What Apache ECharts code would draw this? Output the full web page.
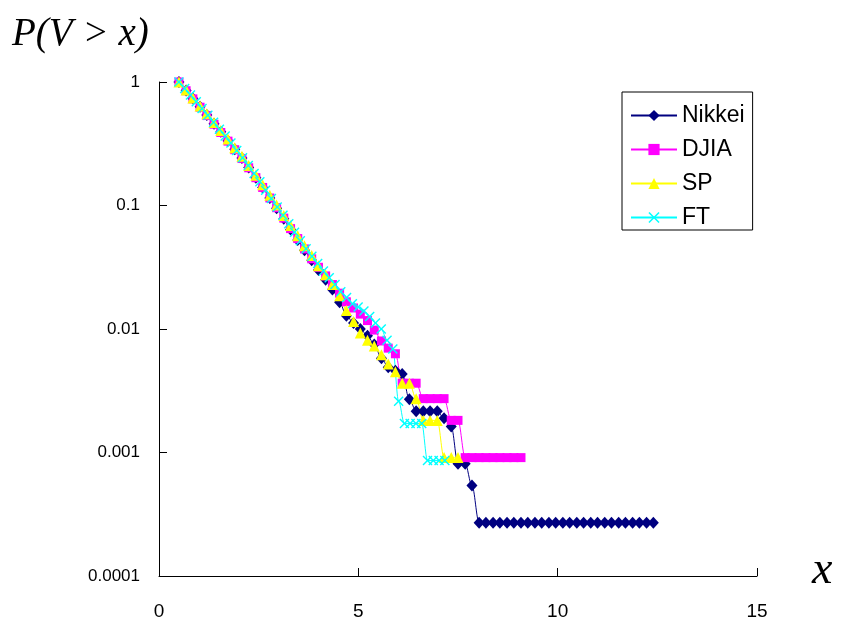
<!DOCTYPE html>
<html><head><meta charset="utf-8">
<script src="https://cdn.jsdelivr.net/npm/echarts@6/dist/echarts.min.js"></script>
<style>html,body{margin:0;padding:0;background:#fff}#c{width:846px;height:628px}</style>
</head><body><div id="c"></div>
<script>
const xTickLabels = ['0', '5', '10', '15'];
const yTickLabels = ['0.0001', '0.001', '0.01', '0.1', '1'];
const seriesNames = ['Nikkei', 'DJIA', 'SP', 'FT'];

const nikkeiX = [0.5, 0.68, 0.85, 1.03, 1.2, 1.38, 1.55, 1.73, 1.9, 2.08,
  2.25, 2.43, 2.6, 2.78, 2.95, 3.13, 3.3, 3.48, 3.65, 3.83,
  4.0, 4.18, 4.35, 4.53, 4.7, 4.88, 5.05, 5.23, 5.4, 5.58,
  5.75, 5.93, 6.1, 6.28, 6.45, 6.63, 6.8, 6.98, 7.15, 7.33,
  7.5, 7.68, 7.85, 8.03, 8.2, 8.38, 8.55, 8.73, 8.9, 9.08,
  9.25, 9.43, 9.6, 9.78, 9.95, 10.13, 10.3, 10.48, 10.65, 10.83,
  11.0, 11.18, 11.35, 11.53, 11.7, 11.88, 12.05, 12.23, 12.4];
const nikkeiP = [1.0, 0.855, 0.735, 0.63, 0.54, 0.46, 0.395, 0.335, 0.285, 0.242,
  0.203, 0.168, 0.14, 0.115, 0.095, 0.078, 0.064, 0.0525, 0.0435, 0.036,
  0.030, 0.0251, 0.0209, 0.0165, 0.0128, 0.0112, 0.0100, 0.0088, 0.0075, 0.0058,
  0.0049, 0.0046, 0.00432, 0.0027, 0.00216, 0.00216, 0.00216, 0.00216, 0.00189, 0.00162,
  0.00081, 0.00081, 0.00054, 0.00027, 0.00027, 0.00027, 0.00027, 0.00027, 0.00027, 0.00027,
  0.00027, 0.00027, 0.00027, 0.00027, 0.00027, 0.00027, 0.00027, 0.00027, 0.00027, 0.00027,
  0.00027, 0.00027, 0.00027, 0.00027, 0.00027, 0.00027, 0.00027, 0.00027, 0.00027];

const djiaX = [0.5, 0.68, 0.85, 1.03, 1.2, 1.38, 1.55, 1.73, 1.9, 2.08,
  2.25, 2.43, 2.6, 2.78, 2.95, 3.13, 3.3, 3.48, 3.65, 3.83,
  4.0, 4.18, 4.35, 4.53, 4.7, 4.88, 5.05, 5.23, 5.4, 5.58,
  5.75, 5.93, 6.1, 6.28, 6.45, 6.63, 6.8, 6.98, 7.15, 7.33,
  7.5, 7.68, 7.85, 8.03, 8.2, 8.38, 8.55, 8.73, 8.9, 9.08];
const djiaP = [1.0, 0.85, 0.73, 0.625, 0.535, 0.455, 0.39, 0.332, 0.283, 0.24,
  0.202, 0.168, 0.14, 0.115, 0.096, 0.079, 0.065, 0.054, 0.0445, 0.037,
  0.0316, 0.0269, 0.0229, 0.0195, 0.0166, 0.0148, 0.0132, 0.0117, 0.0098, 0.0080,
  0.0070, 0.0063, 0.00364, 0.00364, 0.00364, 0.00273, 0.00273, 0.00273, 0.00273, 0.00182,
  0.00182, 0.000909, 0.000909, 0.000909, 0.000909, 0.000909, 0.000909, 0.000909, 0.000909, 0.000909];

const spX = [0.5, 0.68, 0.85, 1.03, 1.2, 1.38, 1.55, 1.73, 1.9, 2.08,
  2.25, 2.43, 2.6, 2.78, 2.95, 3.13, 3.3, 3.48, 3.65, 3.83,
  4.0, 4.18, 4.35, 4.53, 4.7, 4.88, 5.05, 5.23, 5.4, 5.58,
  5.75, 5.93, 6.1, 6.28, 6.45, 6.63, 6.8, 6.98, 7.15, 7.33, 7.5];
const spP = [1.0, 0.862, 0.742, 0.64, 0.552, 0.47, 0.405, 0.345, 0.294, 0.25,
  0.211, 0.176, 0.147, 0.121, 0.101, 0.083, 0.069, 0.057, 0.0473, 0.0393,
  0.0325, 0.0275, 0.0229, 0.0186, 0.0141, 0.0115, 0.0093, 0.0081, 0.0073, 0.0062,
  0.0052, 0.0045, 0.00364, 0.00364, 0.00273, 0.00182, 0.00182, 0.00182, 0.000909, 0.000909,
  0.000909];

const ftX = [0.5, 0.645, 0.79, 0.935, 1.08, 1.225, 1.37, 1.515, 1.66, 1.805,
  1.95, 2.095, 2.24, 2.385, 2.53, 2.675, 2.82, 2.965, 3.11, 3.255,
  3.4, 3.545, 3.69, 3.835, 3.98, 4.125, 4.27, 4.415, 4.56, 4.705,
  4.85, 4.995, 5.14, 5.285, 5.43, 5.575, 5.72, 5.865, 6.01, 6.155,
  6.3, 6.445, 6.59, 6.735, 6.88, 7.025, 7.17];
const ftP = [1.0, 0.887, 0.785, 0.692, 0.611, 0.537, 0.472, 0.415, 0.366, 0.320,
  0.279, 0.244, 0.211, 0.182, 0.156, 0.133, 0.114, 0.0973, 0.0832, 0.0710,
  0.0607, 0.0519, 0.0447, 0.0389, 0.0339, 0.0295, 0.0260, 0.0229, 0.0200, 0.0180,
  0.0160, 0.0151, 0.0140, 0.0126, 0.0112, 0.0100, 0.0081, 0.0069, 0.0026, 0.00172,
  0.00172, 0.00172, 0.00172, 0.00086, 0.00086, 0.00086, 0.00086];

function pairs(xs, ps) { return xs.map(function (x, i) { return [x, ps[i]]; }); }

const XPATH = 'path://M0,1L1,0L5,4L9,0L10,1L6,5L10,9L9,10L5,6L1,10L0,9L4,5Z';
const FONT = 'Arial, "Liberation Sans", sans-serif';
const SERIF = '"Times New Roman", "Liberation Serif", serif';

function mkSeries(name, xs, ps, color, symbol, size) {
  return {
    name: name, type: 'line', data: pairs(xs, ps),
    smooth: 0.35, smoothMonotone: 'x',
    symbol: symbol, symbolSize: size, showSymbol: true,
    lineStyle: { color: color, width: 1 },
    itemStyle: { color: color, borderWidth: 0 },
    emphasis: { disabled: true }
  };
}

const chart = echarts.init(document.getElementById('c'), null, { renderer: 'canvas' });
chart.setOption({
  animation: false,
  backgroundColor: '#fff',
  grid: { left: 159, top: 82, width: 598, height: 494, containLabel: false, outerBoundsMode: 'none' },
  xAxis: {
    type: 'value', min: 0, max: 15, interval: 5,
    axisLine: { lineStyle: { color: '#000', width: 1 } },
    axisTick: { inside: true, length: 8, lineStyle: { color: '#000' } },
    splitLine: { show: false },
    axisLabel: {
      color: '#000', fontSize: 19, fontFamily: FONT, margin: 26,
      formatter: function (v) { return xTickLabels[Math.round(v / 5)]; }
    }
  },
  yAxis: {
    type: 'log', logBase: 10, min: 0.0001, max: 1,
    axisLine: { show: true, lineStyle: { color: '#000', width: 1 } },
    axisTick: { show: true, inside: true, length: 8, lineStyle: { color: '#000' } },
    minorTick: { show: false },
    splitLine: { show: false },
    axisLabel: {
      color: '#000', fontSize: 17, fontFamily: FONT, margin: 19,
      formatter: function (v) { return yTickLabels[Math.round(Math.log10(v)) + 4]; }
    }
  },
  legend: {
    orient: 'vertical', left: 622, top: 92,
    padding: [12, 8, 1, 8],
    itemWidth: 46, itemHeight: 14, itemGap: 11,
    backgroundColor: '#fff', borderColor: '#000', borderWidth: 1,
    textStyle: { fontSize: 23, fontFamily: FONT, color: '#000', lineHeight: 22 },
    data: seriesNames
  },
  graphic: [
    { type: 'text', left: 12, top: 15, style: { text: 'P(V > x)', font: 'italic 39px ' + SERIF, fill: '#000' } },
    { type: 'text', left: 812, top: 548, style: { text: 'x', font: 'italic 46px ' + SERIF, fill: '#000' } }
  ],
  series: [
    mkSeries(seriesNames[0], nikkeiX, nikkeiP, '#000080', 'diamond', [11, 12]),
    mkSeries(seriesNames[1], djiaX, djiaP, '#FF00FF', 'rect', 9),
    mkSeries(seriesNames[2], spX, spP, '#FFFF00', 'triangle', 11),
    mkSeries(seriesNames[3], ftX, ftP, '#00FFFF', XPATH, 10)
  ]
});
</script></body></html>
